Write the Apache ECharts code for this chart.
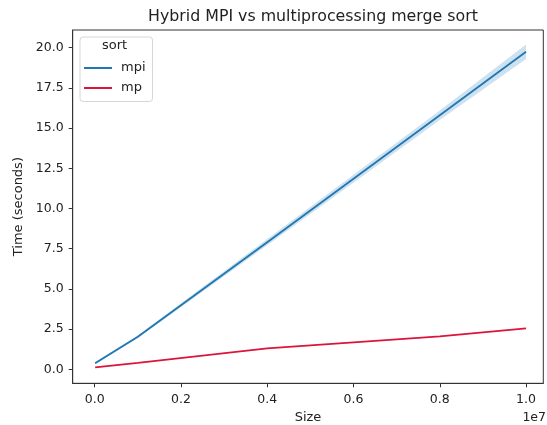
<!DOCTYPE html>
<html>
<head>
<meta charset="utf-8">
<script src="https://cdn.jsdelivr.net/npm/echarts@6/dist/echarts.min.js"></script>
<style>html,body{margin:0;padding:0;background:#fff}#c{width:547px;height:425px}</style>
</head>
<body>
<div id="c"></div>
<script>
const sizes = [10000, 1000000, 4000000, 8000000, 10000000];
const mpiTime = [0.38, 2.02, 7.9, 15.8, 19.75];
const mpiLow = [0.32, 1.95, 7.72, 15.5, 19.3];
const mpiHigh = [0.45, 2.1, 8.1, 16.1, 20.2];
const mpTime = [0.12, 0.4, 1.3, 2.05, 2.55];
const xTicks = [0, 2000000, 4000000, 6000000, 8000000, 10000000];
const yTicks = [0, 2.5, 5, 7.5, 10, 12.5, 15, 17.5, 20];

const font = 'DejaVu Sans';
const txt = '#222';
const chart = echarts.init(document.getElementById('c'), null, {renderer: 'canvas'});
const pts = (ys) => sizes.map((x, i) => [x, ys[i]]);
chart.setOption({
  animation: false,
  backgroundColor: '#fff',
  title: {
    text: 'Hybrid MPI vs multiprocessing merge sort',
    left: 308, top: 4, textAlign: 'center',
    textStyle: {fontFamily: font, fontSize: 15.8, fontWeight: 'normal', color: txt}
  },
  grid: {left: 72.7, right: 3.7, top: 30, bottom: 41.7, show: true, borderColor: '#333', borderWidth: 1,
    backgroundColor: 'transparent', containLabel: false, outerBoundsMode: 'none'},
  legend: {
    data: ['mpi', 'mp'], orient: 'vertical', left: 84, top: 61, z: 10, padding: 0,
    itemWidth: 28, itemHeight: 2, itemGap: 6, icon: 'rect',
    textStyle: {fontFamily: font, fontSize: 13, color: txt, lineHeight: 14, padding: [0, 0, 0, 4]},
    selectedMode: false
  },
  xAxis: {
    type: 'value', min: -510000, max: 10400000,
    name: 'Size', nameLocation: 'middle', nameGap: 28,
    nameTextStyle: {fontFamily: font, fontSize: 13, color: txt},
    splitLine: {show: false},
    axisLine: {show: true, onZero: false, lineStyle: {color: '#333'}},
    axisTick: {show: true, length: 4, customValues: xTicks, lineStyle: {color: '#333'}},
    axisLabel: {customValues: xTicks, fontFamily: font, fontSize: 12.5, color: txt, margin: 10,
      formatter: v => (v / 1e7).toFixed(1)}
  },
  yAxis: {
    type: 'value', min: -0.87, max: 21.1,
    name: 'Time (seconds)', nameLocation: 'middle', nameGap: 46,
    nameTextStyle: {fontFamily: font, fontSize: 13, color: txt},
    splitLine: {show: false},
    axisLine: {show: true, onZero: false, lineStyle: {color: '#333'}},
    axisTick: {show: true, length: 4, customValues: yTicks, lineStyle: {color: '#333'}},
    axisLabel: {customValues: yTicks, fontFamily: font, fontSize: 12.5, color: txt, margin: 9,
      formatter: v => v.toFixed(1)}
  },
  graphic: [
    {type: 'rect', left: 79.5, top: 36.5, shape: {width: 72.5, height: 64.5, r: 3},
      style: {fill: 'rgba(255,255,255,0.8)', stroke: '#d6d6d6', lineWidth: 1}, z: 1},
    {type: 'text', left: 102, top: 39, style: {text: 'sort', fontFamily: font, fontSize: 13, fill: txt}, z: 11},
    {type: 'text', right: 1, top: 411, style: {text: '1e7', fontFamily: font, fontSize: 12.5, fill: txt}, z: 6}
  ],
  series: [
    {name: 'band', type: 'custom', silent: true, z: 1,
      data: sizes.map((x, i) => [x, mpiLow[i], mpiHigh[i]]),
      encode: {x: 0, y: [1, 2]},
      renderItem: function (params, api) {
        if (params.dataIndex !== 0) return null;
        const lower = sizes.map((x, i) => api.coord([x, mpiLow[i]]));
        const upper = sizes.map((x, i) => api.coord([x, mpiHigh[i]])).reverse();
        return {type: 'polygon', shape: {points: lower.concat(upper)},
          style: {fill: 'rgba(31,119,180,0.22)'}};
      }},
    {name: 'mpi', type: 'line', data: pts(mpiTime), symbol: 'none', color: '#1f77b4',
      lineStyle: {width: 1.8, color: '#1f77b4'}, z: 3},
    {name: 'mp', type: 'line', data: pts(mpTime), symbol: 'none', color: '#dc143c',
      lineStyle: {width: 1.8, color: '#dc143c'}, z: 3}
  ]
});
</script>
</body>
</html>
